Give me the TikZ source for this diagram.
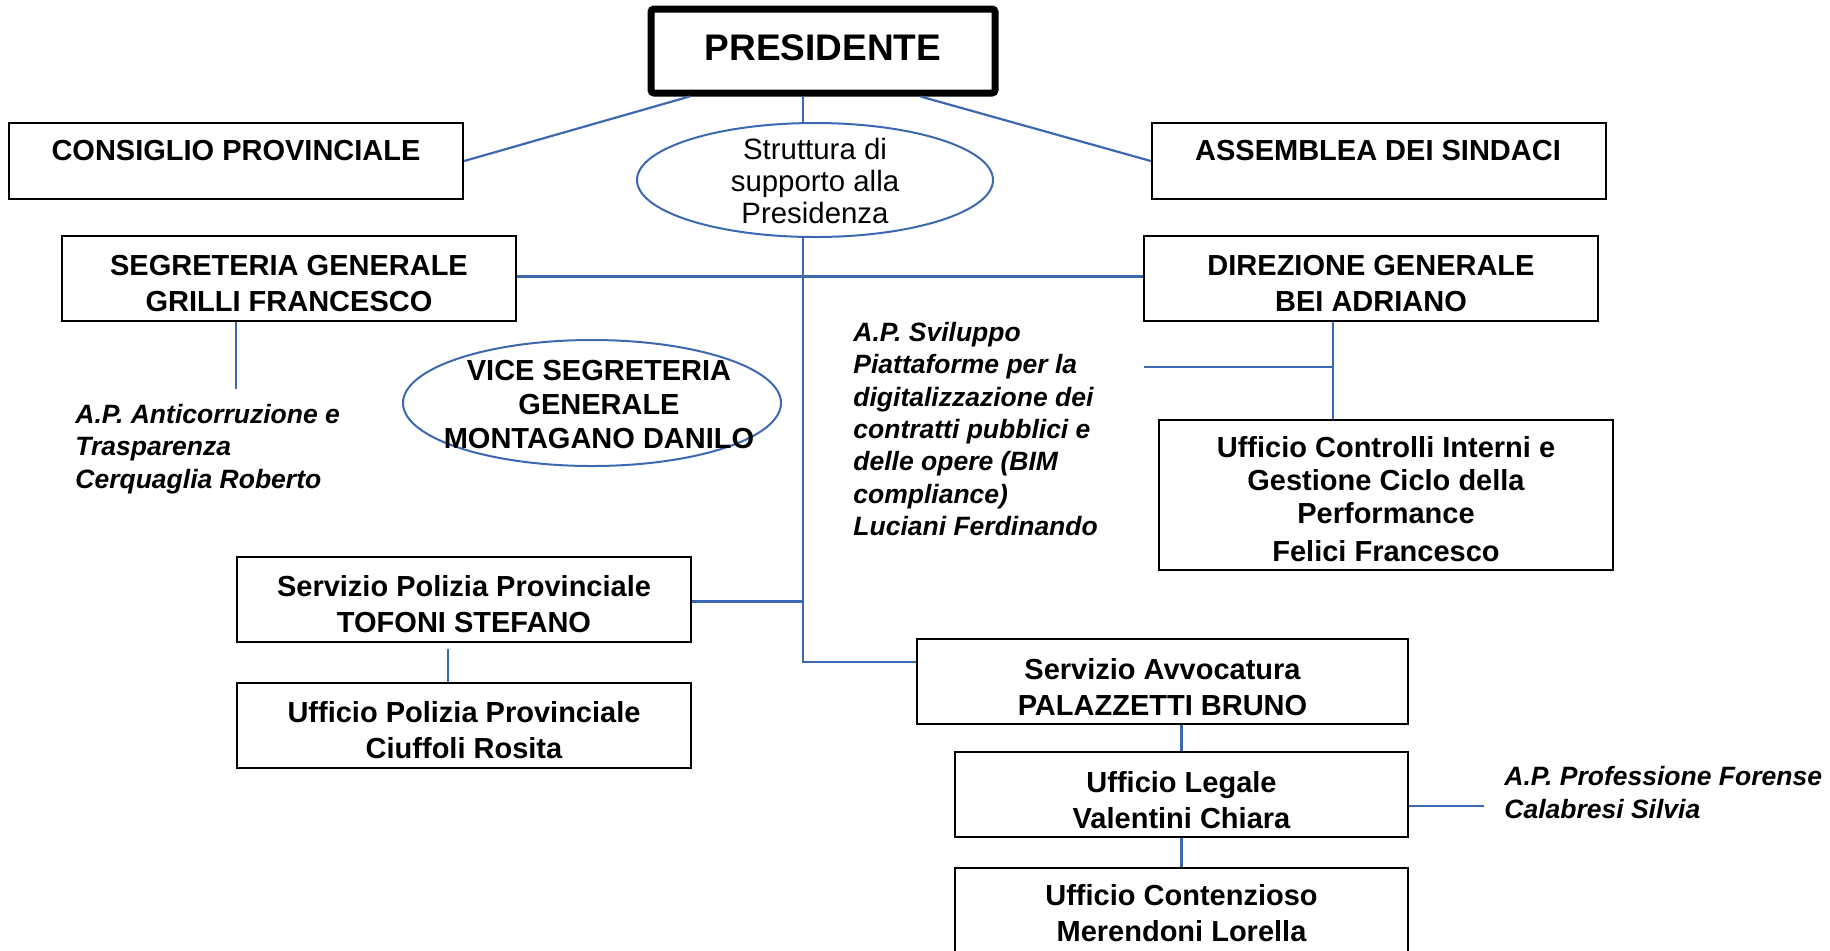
\documentclass[tikz,border=0pt]{standalone}
\usepackage{fontspec}
\setmainfont{Liberation Sans}
\usetikzlibrary{shapes.geometric,calc}
\definecolor{linkblue}{RGB}{60,104,178}
\newcommand{\boxstrut}[1]{\rule{0pt}{#1}}
\begin{document}
\begin{tikzpicture}[x=0.5pt,y=-0.5pt,
  box/.style={draw=black,line width=1.2pt,rectangle,inner sep=0pt,align=center,
    font=\fontsize{14.5}{18}\selectfont\bfseries},
  bigbox/.style={draw=black,line width=3.5pt,rounded corners=1.5pt,rectangle,inner sep=0pt,
    text depth=3.5pt,font=\fontsize{18.5}{22}\selectfont\bfseries},
  oval/.style={draw=linkblue,line width=1pt,ellipse,inner sep=0pt},
  boldtext/.style={inner sep=0pt,align=center,font=\fontsize{14.5}{18}\selectfont\bfseries},
  plaintext/.style={inner sep=0pt,align=center,font=\fontsize{14.7}{16}\selectfont},
  note/.style={align=left,anchor=west,inner sep=0pt,
    font=\fontsize{13.25}{16.2}\selectfont\bfseries\itshape},
  link/.style={draw=linkblue,line width=1.1pt},
]
\useasboundingbox (0,0) rectangle (1830,950);
\clip (0,0) rectangle (1830,950);

% top level
\node[bigbox,minimum width=172pt,minimum height=42pt] (pres) at (823,51) {PRESIDENTE};
\node[box,minimum width=227pt,minimum height=38pt] (cons) at (236,161) {};
\node[boldtext] (consT) at (236,151) {CONSIGLIO PROVINCIALE};
\node[box,minimum width=227pt,minimum height=38pt] (assem) at (1379,161) {};
\node[boldtext] (assemT) at (1378,151) {ASSEMBLEA DEI SINDACI};

\node[oval,minimum width=178pt,minimum height=57pt] (strutt) at (815,180) {};
\node[plaintext] (struttT) at (815,181) {Struttura di\\supporto alla\\Presidenza};

% second level
\node[box,minimum width=227pt,minimum height=42.5pt] (segr) at (289,278.5)
  {\boxstrut{15pt}SEGRETERIA GENERALE\\GRILLI FRANCESCO};
\node[box,minimum width=227pt,minimum height=42.5pt] (direz) at (1371,278.5)
  {\boxstrut{15pt}DIREZIONE GENERALE\\BEI ADRIANO};

\node[note] (anti) at (75,449) {A.P. Anticorruzione e\\Trasparenza\\Cerquaglia Roberto};

\node[oval,minimum width=189pt,minimum height=63pt] (vice) at (592,403) {};
\node[inner sep=0pt,align=center,font=\fontsize{14.5}{17}\selectfont\bfseries] (viceT) at (599,404)
  {VICE SEGRETERIA\\GENERALE\\MONTAGANO DANILO};

\node[note] (svil) at (853,429) {A.P. Sviluppo\\Piattaforme per la\\digitalizzazione dei\\contratti pubblici e\\delle opere (BIM\\compliance)\\Luciani Ferdinando};

\node[box,minimum width=227pt,minimum height=75pt,
  font=\fontsize{14.5}{16.5}\selectfont\bfseries] (ctrl) at (1386,495)
  {\boxstrut{14.5pt}Ufficio Controlli Interni e\\Gestione Ciclo della\\Performance\\[2.5pt]Felici Francesco};

% lower part
\node[box,minimum width=227pt,minimum height=42.5pt] (spol) at (464,599.5)
  {\boxstrut{15.5pt}Servizio Polizia Provinciale\\TOFONI STEFANO};
\node[box,minimum width=227pt,minimum height=42.5pt] (upol) at (464,725.5)
  {\boxstrut{15pt}Ufficio Polizia Provinciale\\Ciuffoli Rosita};

\node[box,minimum width=245.5pt,minimum height=42.5pt] (avv) at (1162.5,681.5)
  {\boxstrut{16pt}Servizio Avvocatura\\PALAZZETTI BRUNO};
\node[box,minimum width=226.5pt,minimum height=42.5pt] (legale) at (1181.5,794.5)
  {\boxstrut{16pt}Ufficio Legale\\Valentini Chiara};
\node[box,minimum width=226.5pt,minimum height=43pt,anchor=north] (cont) at (1181.5,867) {};
\node[boldtext] (contT) at (1181.5,913.5) {Ufficio Contenzioso\\Merendoni Lorella};

\node[note] (forense) at (1504,792.5) {A.P. Professione Forense\\Calabresi Silvia};

% helper coordinates
\coordinate (tx) at (803,0);
\coordinate (antiTop) at (236,389);
\coordinate (dx) at (1333,367);
\coordinate (svEnd) at (1144,367);
\coordinate (px) at (448,649);
\coordinate (fEnd) at (1484,806);

% connectors
\draw[link] ([xshift=21pt]pres.south west) -- (cons.east);
\draw[link] ([xshift=-39pt]pres.south east) -- (assem.west);
\draw[link] (pres.south -| tx) -- (strutt.north -| tx);
\draw[link] (strutt.south -| tx) |- ([yshift=9.75pt]avv.west);
\draw[link] ([yshift=1pt]segr.east) -- ([yshift=1pt]direz.west);
\draw[link] ([yshift=-1pt]spol.east) -- ([yshift=-1pt]spol.east -| tx);
\draw[link] (segr.south -| antiTop) -- (antiTop);
\draw[link] (direz.south -| dx) -- (ctrl.north -| dx);
\draw[link] (dx) -- (svEnd);
\draw[link] (px) -- (upol.north -| px);
\draw[link] (legale.north) -- (legale.north |- avv.south);
\draw[link] (legale.south) -- (cont.north);
\draw[link] (legale.east |- fEnd) -- (fEnd);
\end{tikzpicture}
\end{document}
